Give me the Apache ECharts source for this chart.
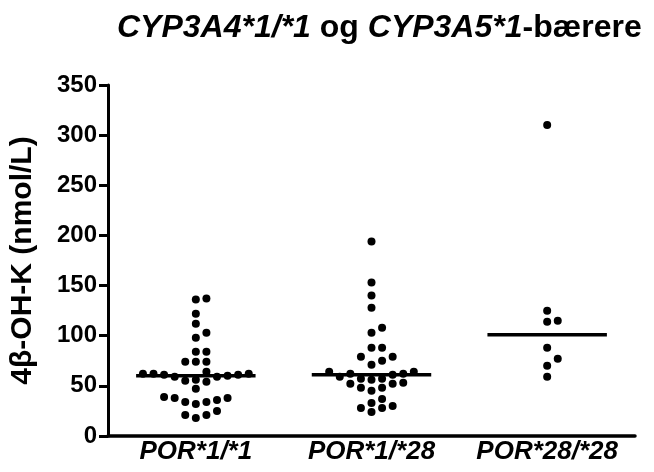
<!DOCTYPE html>
<html>
<head>
<meta charset="utf-8">
<script src="https://cdn.jsdelivr.net/npm/echarts@6/dist/echarts.min.js"></script>
<style>
html,body{margin:0;padding:0;background:#fff;}
#chart{width:654px;height:472px;}
</style>
</head>
<body>
<div id="chart"></div>
<script>
// genotype groups
var categories = ['POR*1/*1', 'POR*1/*28', 'POR*28/*28'];
// 4β-OH-K values (nmol/L)
var por11 = [137, 136, 122, 112, 103, 98, 84, 84, 74, 74, 74,
	64, 62, 62, 62, 61, 61, 60, 59, 59, 56, 55, 54, 47,
	39, 38, 38, 36, 34, 34, 32, 25, 21, 21, 18];
var por128 = [194, 153, 140, 128, 108, 103, 88, 88, 79, 79, 75, 71,
	64, 64, 62, 62, 61, 59, 57, 57, 56, 53, 52, 52, 48, 48, 45,
	37, 33, 30, 28, 28, 24];
var por2828 = [310, 125, 115, 114, 88, 77, 70, 59];
var yTicks = [0, 50, 100, 150, 200, 250, 300, 350];

var groups = [por11, por128, por2828];

var font = 'Liberation Sans, Arial, sans-serif';
var gridL = 107, gridR = 19, gridT = 85, gridB = 36;
var W = 654, H = 472;
var yMax = yTicks[yTicks.length-1];
var pxPerUnit = (H - gridT - gridB) / yMax;
var pxPerCat = (W - gridL - gridR) / categories.length;
var dotSize = 8;
var stepPx = 10.6;

function median(arr){
	var s = arr.slice().sort(function(a,b){return a-b;});
	var n = s.length;
	return n % 2 ? s[(n-1)/2] : (s[n/2-1] + s[n/2]) / 2;
}

// simple column beeswarm: slots 0,+1,-1,+2,-2...
function swarm(arr, gi){
	var s = arr.slice().sort(function(a,b){return a-b;});
	var placed = [];
	var out = [];
	s.forEach(function(v){
		for(var j=0;j<40;j++){
			var k = j===0 ? 0 : (j%2 ? (j+1)/2 : -j/2);
			var hit = placed.some(function(p){
				return p.k===k && Math.abs(p.v - v) * pxPerUnit < dotSize + 0.5;
			});
			if(!hit){
				placed.push({k:k, v:v});
				out.push([gi + k * stepPx / pxPerCat, v]);
				break;
			}
		}
	});
	return out;
}

var points = [];
groups.forEach(function(g, i){ points = points.concat(swarm(g, i)); });
var medians = groups.map(function(g, i){ return [i, median(g)]; });

var chart = echarts.init(document.getElementById('chart'), null, {renderer:'canvas'});
chart.setOption({
	animation:false,
	backgroundColor:'#fff',
	title:{
		text:'{i|CYP3A4*1/*1} og {i|CYP3A5*1}-bærere',
		left:112,
		top:7,
		textStyle:{
			fontFamily:font,
			fontSize:32,
			fontWeight:'bold',
			color:'#000',
			rich:{
				i:{fontFamily:font, fontSize:32, fontWeight:'bold', fontStyle:'italic', color:'#000'}
			}
		}
	},
	grid:{left:gridL, right:gridR, top:gridT, bottom:gridB},
	xAxis:[{
		type:'category',
		data:categories,
		boundaryGap:true,
		axisLine:{lineStyle:{color:'#000', width:3.5}},
		axisTick:{alignWithLabel:true, length:8, lineStyle:{color:'#000', width:3}},
		axisLabel:{
			interval:0,
			hideOverlap:false,
			margin:3,
			fontFamily:font, fontSize:26, fontWeight:'bold', fontStyle:'italic', color:'#000'
		},
		splitLine:{show:false}
	},{
		type:'value',
		min:-0.5, max:2.5,
		show:false
	}],
	yAxis:{
		type:'value',
		min:0, max:yMax, interval:50,
		name:'4β-OH-K (nmol/L)',
		nameLocation:'middle',
		nameRotate:90,
		nameGap:70,
		nameTextStyle:{fontFamily:font, fontSize:30, fontWeight:'bold', color:'#000'},
		axisLine:{show:true, onZero:false, lineStyle:{color:'#000', width:3}},
		axisTick:{show:true, length:9, lineStyle:{color:'#000', width:3}},
		axisLabel:{margin:11, fontFamily:font, fontSize:24, fontWeight:'bold', color:'#000'},
		splitLine:{show:false}
	},
	series:[{
		type:'scatter',
		xAxisIndex:1,
		data:points,
		symbol:'circle',
		symbolSize:dotSize,
		itemStyle:{color:'#000', opacity:1}
	},{
		type:'custom',
		xAxisIndex:1,
		data:medians,
		renderItem:function(params, api){
			var i = api.value(0), m = api.value(1);
			var a = api.coord([i - 0.34, m]);
			var b = api.coord([i + 0.34, m]);
			return {
				type:'line',
				shape:{x1:a[0], y1:a[1], x2:b[0], y2:b[1]},
				style:{stroke:'#000', lineWidth:3.5}
			};
		}
	}]
});
</script>
</body>
</html>
